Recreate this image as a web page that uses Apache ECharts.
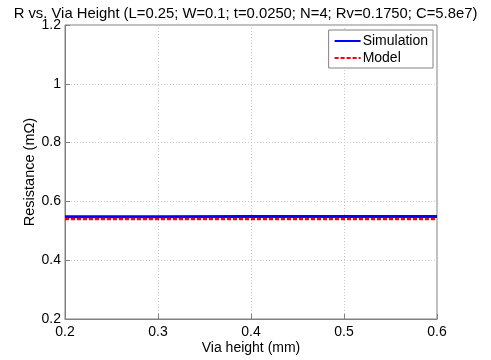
<!DOCTYPE html>
<html><head><meta charset="utf-8">
<script src="https://cdn.jsdelivr.net/npm/echarts@6/dist/echarts.min.js"></script>
<style>html,body{margin:0;padding:0;background:#fff}#c{width:491px;height:360px}</style>
</head><body><div id="c"></div>
<script>
const viaHeight = [0.2, 0.3, 0.4, 0.5, 0.6];
const simulation = [0.548, 0.548, 0.549, 0.549, 0.549];
const model = [0.540, 0.540, 0.540, 0.540, 0.540];
const xTicks = [0.2, 0.3, 0.4, 0.5, 0.6];
const yTicks = [0.2, 0.4, 0.6, 0.8, 1, 1.2];

const font = 'Liberation Sans, Arial, sans-serif';
const chart = echarts.init(document.getElementById('c'));
chart.setOption({
  animation: false,
  backgroundColor: '#fff',
  title: {
    text: 'R vs. Via Height (L=0.25; W=0.1; t=0.0250; N=4; Rv=0.1750; C=5.8e7)',
    left: 'center', top: 1,
    textStyle: {fontFamily: font, fontSize: 14.8, fontWeight: 'normal', color: '#000'}
  },
  grid: {left: 65, right: 54, top: 25, bottom: 41, show: true, borderColor: '#808080', borderWidth: 1,
    outerBoundsMode: 'none', containLabel: false},
  legend: {
    orient: 'vertical', right: 58, top: 30,
    backgroundColor: '#fff', borderColor: '#808080', borderWidth: 1,
    padding: [4, 5, 3, 5], itemGap: 3, itemWidth: 26, itemHeight: 14,
    itemStyle: {opacity: 0},
    textStyle: {fontFamily: font, fontSize: 14, color: '#000', padding: [0, 0, 0, -3]},
    data: ['Simulation', 'Model']
  },
  xAxis: {
    type: 'value', min: 0.2, max: 0.6, interval: 0.1,
    name: 'Via height (mm)', nameLocation: 'middle', nameGap: 22, nameMoveOverlap: false,
    nameTextStyle: {fontFamily: font, fontSize: 14, color: '#000'},
    axisLine: {lineStyle: {color: '#808080'}},
    axisTick: {inside: true, length: 5, lineStyle: {color: '#808080'}},
    axisLabel: {fontFamily: font, fontSize: 14, color: '#000', margin: 6,
      formatter: v => xTicks.find(t => Math.abs(t - v) < 1e-9) !== undefined ? String(+v.toFixed(1)) : ''},
    splitLine: {show: true, lineStyle: {color: '#c8c8c8', type: [1, 2]}}
  },
  yAxis: {
    type: 'value', min: 0.2, max: 1.2, interval: 0.2,
    name: 'Resistance (m\u03A9)', nameLocation: 'middle', nameGap: 28, nameMoveOverlap: false,
    nameTextStyle: {fontFamily: font, fontSize: 14.5, color: '#000'},
    axisLine: {lineStyle: {color: '#808080'}},
    axisTick: {inside: true, length: 5, lineStyle: {color: '#808080'}},
    axisLabel: {fontFamily: font, fontSize: 14, color: '#000', margin: 4,
      formatter: v => { const t = yTicks.find(t => Math.abs(t - v) < 1e-9); return t === undefined ? '' : String(+t.toFixed(1)); }},
    splitLine: {show: true, lineStyle: {color: '#c8c8c8', type: [1, 2]}}
  },
  series: [
    {name: 'Simulation', type: 'line', symbol: 'none', data: viaHeight.map((x, i) => [x, simulation[i]]),
      lineStyle: {color: '#0000ff', width: 3}, itemStyle: {color: '#0000ff'}, z: 2},
    {name: 'Model', type: 'line', symbol: 'none', data: viaHeight.map((x, i) => [x, model[i]]),
      lineStyle: {color: '#ff0000', width: 2.5, type: [4, 2]}, itemStyle: {color: '#ff0000'}, z: 3}
  ]
});
</script></body></html>
